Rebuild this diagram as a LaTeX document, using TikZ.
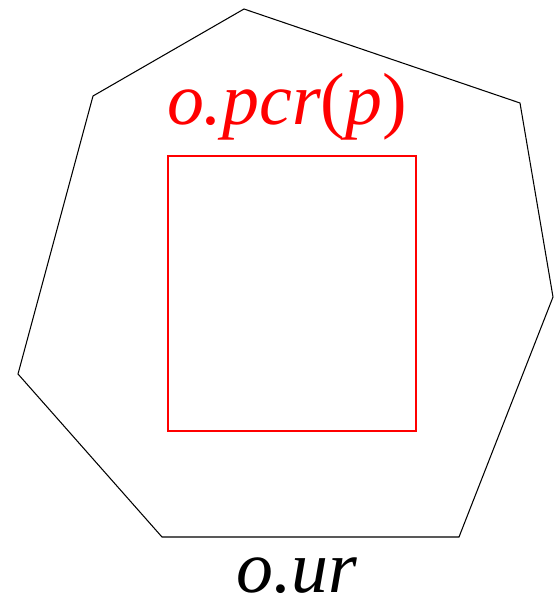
\documentclass[tikz,border=0pt]{standalone}
\usepackage{fontspec}
\setmainfont{Liberation Serif}
\usetikzlibrary{positioning}
\tikzset{
  regionline/.style={draw=black, line width=0.6pt, line join=miter},
  pcrbox/.style={draw=red, line width=1.2pt},
  biglabel/.style={font=\fontsize{42}{48}\selectfont, inner sep=0pt, anchor=base, text depth=0pt},
}

\begin{document}
\begin{tikzpicture}[x=0.02cm, y=-0.02cm]
  \useasboundingbox (0,0) rectangle (554,605);
  % corners of the region
  \coordinate (v1) at (244,9);
  \coordinate (v2) at (520,103);
  \coordinate (v3) at (553,297);
  \coordinate (v4) at (459,537);
  \coordinate (v5) at (162,537);
  \coordinate (v6) at (18,374);
  \coordinate (v7) at (93,96);
  \draw[regionline] (v1) -- (v2) -- (v3) -- (v4) -- (v5) -- (v6) -- (v7) -- cycle;
  % inner box
  \coordinate (pcrtl) at (168,156);
  \coordinate (pcrbr) at (416,431);
  \draw[pcrbox] (pcrtl) rectangle (pcrbr);
  \node[biglabel, text=red] (pcrlabel) at (287,124) {\textit{o.pcr}(\textit{p})};
  \node[biglabel] (urlabel) at (297,592) {\textit{o.ur}};
\end{tikzpicture}
\end{document}
